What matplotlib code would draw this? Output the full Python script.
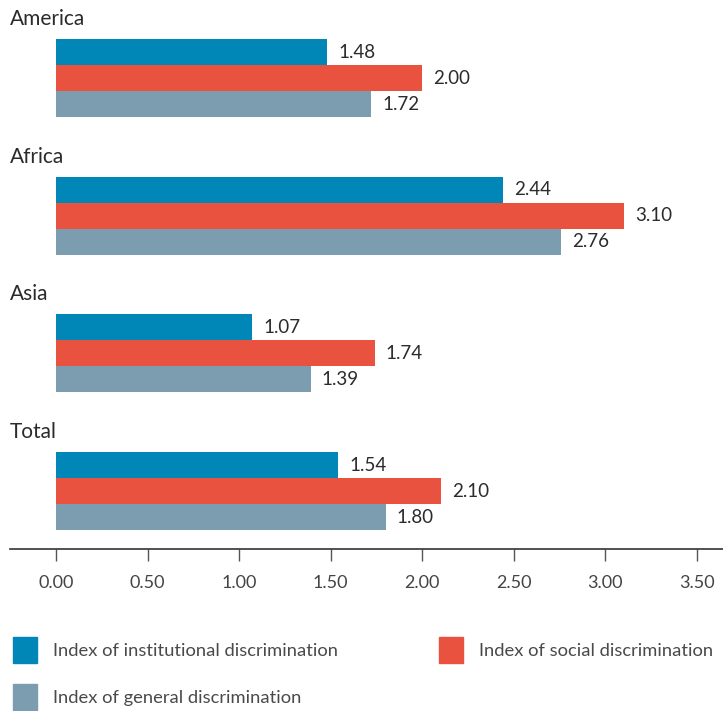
import matplotlib
matplotlib.use('Agg')
import matplotlib.pyplot as plt
from matplotlib.patches import Rectangle
from matplotlib.transforms import blended_transform_factory

regions = ['America', 'Africa', 'Asia', 'Total']
institutional = [1.48, 2.44, 1.07, 1.54]
social = [2.00, 3.10, 1.74, 2.10]
general = [1.72, 2.76, 1.39, 1.80]
series_names = ['Index of institutional discrimination',
                'Index of social discrimination',
                'Index of general discrimination']
colors = ['#0087B7', '#E8523F', '#7C9CB0']
xticks = [0, 0.5, 1, 1.5, 2, 2.5, 3, 3.5]

plt.rcParams['font.family'] = ['Lato', 'DejaVu Sans']
text_color = '#2b2b2b'

W, H = 723, 711
fig = plt.figure(figsize=(W / 100, H / 100), dpi=100)

# axis line sits at y=549px, plot starts at x=10px
ax = fig.add_axes([10 / W, (H - 549) / H, (W - 10) / W, 549 / H])
px_per_unit = (697 - 56) / 3.5
ax.set_xlim((10 - 56) / px_per_unit, (W - 56) / px_per_unit)
group = 137.7
ax.set_ylim(549 / group, 0)

bar_h = 26 / group
top = 39 / group
series = [institutional, social, general]
for g, name in enumerate(regions):
    for k, vals in enumerate(series):
        yc = g + top + bar_h * (k + 0.5)
        ax.barh(yc, vals[g], height=bar_h, color=colors[k], left=0)
        ax.annotate(f'{vals[g]:.2f}', (vals[g], yc), xytext=(8, 0),
                    textcoords='offset points', va='center', ha='left',
                    fontsize=13.5, color=text_color)

trans = blended_transform_factory(ax.transAxes, ax.transData)
for g, name in enumerate(regions):
    ax.text(0, g + top - 14 / group, name, transform=trans, ha='left',
            va='baseline', fontsize=15, color=text_color)

for s in ['top', 'right', 'left']:
    ax.spines[s].set_visible(False)
ax.spines['bottom'].set_color('#333333')
ax.spines['bottom'].set_linewidth(1.2)
ax.set_yticks([])
ax.set_xticks(xticks)
ax.set_xticklabels([f'{t:.2f}' for t in xticks], fontsize=13,
                   color='#444444')
ax.tick_params(axis='x', direction='out', length=8.5, width=1,
               color='#555555', pad=10)

# legend drawn by hand in figure pixels
legend_pos = [(13, 637), (439, 637), (13, 684)]
for (x, y), c, label in zip(legend_pos, colors, series_names):
    fig.patches.append(Rectangle((x / W, 1 - (y + 26) / H), 24 / W, 26 / H,
                                 transform=fig.transFigure, color=c))
    fig.text((x + 40) / W, 1 - (y + 14) / H, label, ha='left', va='center',
             fontsize=13.2, color='#4a4a4a')

fig.savefig('out.png', dpi=100)
